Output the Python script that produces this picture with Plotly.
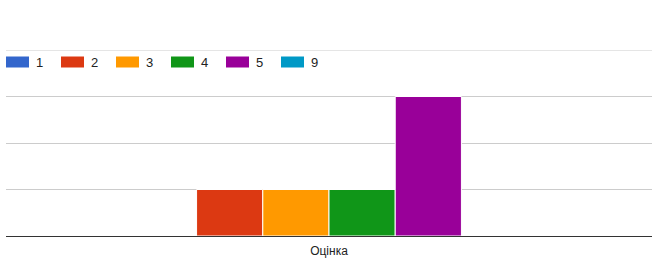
import plotly.graph_objects as go

categories = ["Оцінка"]
series_names = ["1", "2", "3", "4", "5", "9"]
series_values = [0, 1, 1, 1, 3, 0]
colors = ["#3366cc", "#dc3912", "#ff9900", "#109618", "#990099", "#0099c6"]
y_max = 4

W, H = 656, 271
ml, mr, mt, mb = 6, 4, 50, 35

fig = go.Figure()
for name, val, col in zip(series_names, series_values, colors):
    fig.add_trace(go.Bar(
        x=categories, y=[val], name=name,
        marker=dict(color=col, line=dict(color="white", width=1)),
        showlegend=False, hoverinfo="skip",
    ))

# custom legend (Google Charts style) in pixel -> paper coordinates
pw = W - ml - mr
ph = H - mt - mb
def px_x(x):
    return (x - ml) / pw
def px_y(y):
    return (H - mb - y) / ph

shapes = [dict(type="line", xref="paper", yref="y", x0=0, x1=1, y0=y_max, y1=y_max,
               line=dict(color="#cccccc", width=1), layer="below")]
annotations = []
for i, (name, col) in enumerate(zip(series_names, colors)):
    x0 = 6 + 55 * i
    shapes.append(dict(type="rect", xref="paper", yref="paper",
                       x0=px_x(x0), x1=px_x(x0 + 23), y0=px_y(67.5), y1=px_y(56.5),
                       fillcolor=col, line=dict(width=0), layer="above"))
    annotations.append(dict(xref="paper", yref="paper", x=px_x(x0 + 28), y=px_y(62),
                            text=name, showarrow=False, xanchor="left", yanchor="middle",
                            font=dict(size=13, color="#222222",
                                      family="Arial, Liberation Sans, sans-serif")))

fig.update_layout(
    width=W, height=H,
    margin=dict(l=ml, r=mr, t=mt, b=mb),
    paper_bgcolor="white", plot_bgcolor="white",
    barmode="group", bargap=0.385, bargroupgap=0,
    font=dict(family="Arial, Liberation Sans, sans-serif", size=13, color="#222222"),
    xaxis=dict(showline=True, linecolor="#333333", linewidth=1, showgrid=False,
               ticks="", ticklabelstandoff=4,
               tickfont=dict(size=12, color="#222222"), fixedrange=True),
    yaxis=dict(range=[0, y_max], dtick=1, showgrid=True, gridcolor="#cccccc", gridwidth=1,
               showticklabels=False, zeroline=False, fixedrange=True),
    shapes=shapes, annotations=annotations,
    showlegend=False,
)

fig.write_html("out.html")
